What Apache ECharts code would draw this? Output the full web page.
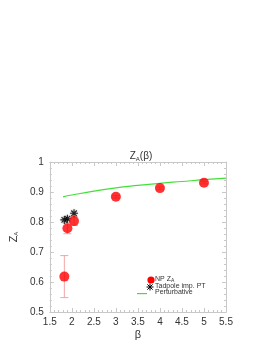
<!DOCTYPE html>
<html><head><meta charset="utf-8">
<script src="https://cdn.jsdelivr.net/npm/echarts@6/dist/echarts.min.js"></script>
<style>html,body{margin:0;padding:0;background:#fff}#c{width:273px;height:353px}</style>
</head><body><div id="c"></div>
<script>
const npBeta = [1.83, 1.90, 2.05, 3.0, 4.0, 5.0];
const npZA = [0.618, 0.779, 0.803, 0.884, 0.913, 0.931];
const npErr = [0.070, 0.018, 0.014, 0.004, 0.004, 0.004];
const tadBeta = [1.83, 1.90, 2.05];
const tadZA = [0.807, 0.811, 0.829];
const pertBeta = [1.8, 2.0, 2.5, 3.0, 3.5, 4.0, 4.5, 5.0, 5.5];
const pertZA = [0.884, 0.890, 0.903, 0.914, 0.922, 0.929, 0.935, 0.941, 0.946];

const star = 'path://M-0.55,-4 L0.55,-4 L0.55,4 L-0.55,4 Z M-4,-0.55 L4,-0.55 L4,0.55 L-4,0.55 Z M-3.2,-2.4 L-2.4,-3.2 L3.2,2.4 L2.4,3.2 Z M2.4,-3.2 L3.2,-2.4 L-2.4,3.2 L-3.2,2.4 Z';
const font = 'Liberation Sans';
const txt = '#333';
const green = '#44e03a';
const axisCommon = {
  axisLine: {show: true, lineStyle: {color: '#c8c8c8', width: 1}},
  axisTick: {show: true, inside: true, length: 4, lineStyle: {color: '#c8c8c8'}},
  minorTick: {show: true, splitNumber: 5, length: 2, lineStyle: {color: '#c8c8c8'}},
  splitLine: {show: false}
};
function starLines(cx, cy, r){
  const st = {stroke: '#000', lineWidth: 1};
  const d = r * 0.75;
  return [
    {type: 'line', shape: {x1: cx - r, y1: cy, x2: cx + r, y2: cy}, style: st},
    {type: 'line', shape: {x1: cx, y1: cy - r, x2: cx, y2: cy + r}, style: st},
    {type: 'line', shape: {x1: cx - d, y1: cy - d, x2: cx + d, y2: cy + d}, style: st},
    {type: 'line', shape: {x1: cx - d, y1: cy + d, x2: cx + d, y2: cy - d}, style: st}
  ];
}
const legText = (x, y, rich) => ({type: 'text', left: x, top: y - 4.5, style: {text: rich, font: '7px "Liberation Sans"', fill: txt,
  rich: {s: {fontSize: 5, padding: [3,0,0,0], fill: txt}}}});
const chart = echarts.init(document.getElementById('c'), null, {renderer: 'canvas'});
chart.setOption({
  animation: false,
  textStyle: {fontFamily: font},
  title: {
    text: '{m|Z}{s|A}{m|(β)}', left: 136, textAlign: 'center', top: 146,
    textStyle: {fontWeight: 'normal', rich: {m: {fontSize: 10, color: txt, fontFamily: font}, s: {fontSize: 6, color: txt, padding: [5,0,0,0], fontFamily: font}}}
  },
  grid: {left: 46, right: 47, top: 162, bottom: 41},
  graphic: [
    {type: 'circle', shape: {cx: 151, cy: 280, r: 3.6}, style: {fill: '#ff0000'}},
    legText(155, 280, 'NP Z{s|A}'),
    {type: 'group', children: starLines(150, 287, 3.5)},
    legText(155, 287, 'Tadpole imp. PT'),
    {type: 'rect', shape: {x: 137, y: 293, width: 10, height: 1.2}, style: {fill: green}},
    legText(155, 293.5, 'Perturbative')
  ],
  xAxis: [
    Object.assign({type: 'value', min: 1.5, max: 5.5, interval: 0.5, position: 'bottom',
      name: 'β', nameLocation: 'middle', nameGap: 17, nameTextStyle: {fontSize: 11, color: txt},
      axisLabel: {fontSize: 10, color: txt, margin: 5}}, axisCommon),
    Object.assign({type: 'value', min: 1.5, max: 5.5, interval: 0.5, position: 'top', axisLabel: {show: false}}, axisCommon)
  ],
  yAxis: [
    Object.assign({type: 'value', min: 0.5, max: 1, interval: 0.1, position: 'left',
      name: '{m|Z}{s|A}', nameLocation: 'middle', nameGap: 27, nameRotate: 90,
      nameTextStyle: {rich: {m: {fontSize: 11, color: txt}, s: {fontSize: 6, color: txt, padding: [5,0,0,0]}}},
      axisLabel: {fontSize: 10, color: txt, margin: 6, formatter: v => (Math.round(v*10)/10).toString()}}, axisCommon),
    Object.assign({type: 'value', min: 0.5, max: 1, interval: 0.1, position: 'right', axisLabel: {show: false}}, axisCommon)
  ],
  series: [
    {
      name: 'NPerr', type: 'custom', silent: true, z: 1,
      data: npBeta.map((b, i) => [b, npZA[i] - npErr[i], npZA[i] + npErr[i]]),
      renderItem: function(params, api){
        const lo = api.coord([api.value(0), api.value(1)]);
        const hi = api.coord([api.value(0), api.value(2)]);
        const st = {stroke: '#f2a5a5', lineWidth: 1};
        return {type: 'group', children: [
          {type: 'line', shape: {x1: lo[0], y1: lo[1], x2: hi[0], y2: hi[1]}, style: st},
          {type: 'line', shape: {x1: lo[0]-4, y1: lo[1], x2: lo[0]+4, y2: lo[1]}, style: st},
          {type: 'line', shape: {x1: hi[0]-4, y1: hi[1], x2: hi[0]+4, y2: hi[1]}, style: st}
        ]};
      }
    },
    {
      name: 'Perturbative', type: 'line', showSymbol: false, smooth: true, z: 2,
      itemStyle: {color: green}, lineStyle: {color: green, width: 1.2},
      data: pertBeta.map((b, i) => [b, pertZA[i]])
    },
    {
      name: 'Tadpole imp. PT', type: 'scatter', symbol: star, symbolSize: 8, z: 3,
      itemStyle: {color: '#000', shadowBlur: 2, shadowColor: 'rgba(0,0,0,0.45)'},
      data: tadBeta.map((b, i) => [b, tadZA[i]])
    },
    {
      name: 'NP', type: 'scatter', symbol: 'circle', symbolSize: 10, z: 4,
      itemStyle: {color: '#ff0000'},
      data: npBeta.map((b, i) => [b, npZA[i]])
    }
  ]
});
</script></body></html>
